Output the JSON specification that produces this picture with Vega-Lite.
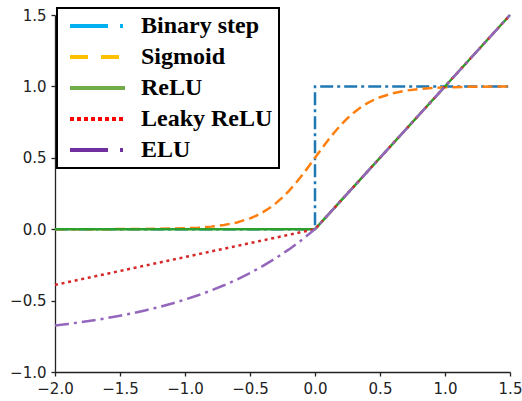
{
  "$schema": "https://vega.github.io/schema/vega-lite/v6.json",
  "width": 455,
  "height": 357,
  "autosize": {"type": "none"},
  "padding": {"left": 55, "top": 15, "right": 12, "bottom": 29},
  "background": "white",
  "config": {
    "view": {"stroke": null},
    "axis": {
      "grid": false,
      "domainColor": "#222",
      "domainWidth": 1.3,
      "tickColor": "#222",
      "tickWidth": 1.3,
      "tickSize": 4,
      "labelFont": "DejaVu Sans",
      "labelFontSize": 15,
      "labelColor": "#222",
      "labelPadding": 5,
      "labelFlush": false,
      "labelOverlap": false,
      "title": null,
      "format": ".1f"
    }
  },
  "data": {
    "values": [
      {"f": "Binary step", "x": -2, "y": 0, "i": 0},
      {"f": "Binary step", "x": 0, "y": 0, "i": 1},
      {"f": "Binary step", "x": 0, "y": 1, "i": 2},
      {"f": "Binary step", "x": 1.5, "y": 1, "i": 3},

      {"f": "Sigmoid", "x": -2.0, "y": 0.0000, "i": 0},
      {"f": "Sigmoid", "x": -1.5, "y": 0.0006, "i": 1},
      {"f": "Sigmoid", "x": -1.2, "y": 0.0025, "i": 2},
      {"f": "Sigmoid", "x": -1.0, "y": 0.0067, "i": 3},
      {"f": "Sigmoid", "x": -0.9, "y": 0.0110, "i": 4},
      {"f": "Sigmoid", "x": -0.8, "y": 0.0180, "i": 5},
      {"f": "Sigmoid", "x": -0.7, "y": 0.0293, "i": 6},
      {"f": "Sigmoid", "x": -0.6, "y": 0.0474, "i": 7},
      {"f": "Sigmoid", "x": -0.5, "y": 0.0759, "i": 8},
      {"f": "Sigmoid", "x": -0.45, "y": 0.0953, "i": 9},
      {"f": "Sigmoid", "x": -0.4, "y": 0.1192, "i": 10},
      {"f": "Sigmoid", "x": -0.35, "y": 0.1481, "i": 11},
      {"f": "Sigmoid", "x": -0.3, "y": 0.1824, "i": 12},
      {"f": "Sigmoid", "x": -0.25, "y": 0.2227, "i": 13},
      {"f": "Sigmoid", "x": -0.2, "y": 0.2689, "i": 14},
      {"f": "Sigmoid", "x": -0.15, "y": 0.3208, "i": 15},
      {"f": "Sigmoid", "x": -0.1, "y": 0.3775, "i": 16},
      {"f": "Sigmoid", "x": -0.05, "y": 0.4378, "i": 17},
      {"f": "Sigmoid", "x": 0.0, "y": 0.5, "i": 18},
      {"f": "Sigmoid", "x": 0.05, "y": 0.5622, "i": 19},
      {"f": "Sigmoid", "x": 0.1, "y": 0.6225, "i": 20},
      {"f": "Sigmoid", "x": 0.15, "y": 0.6792, "i": 21},
      {"f": "Sigmoid", "x": 0.2, "y": 0.7311, "i": 22},
      {"f": "Sigmoid", "x": 0.25, "y": 0.7773, "i": 23},
      {"f": "Sigmoid", "x": 0.3, "y": 0.8176, "i": 24},
      {"f": "Sigmoid", "x": 0.35, "y": 0.8519, "i": 25},
      {"f": "Sigmoid", "x": 0.4, "y": 0.8808, "i": 26},
      {"f": "Sigmoid", "x": 0.45, "y": 0.9047, "i": 27},
      {"f": "Sigmoid", "x": 0.5, "y": 0.9241, "i": 28},
      {"f": "Sigmoid", "x": 0.6, "y": 0.9526, "i": 29},
      {"f": "Sigmoid", "x": 0.7, "y": 0.9707, "i": 30},
      {"f": "Sigmoid", "x": 0.8, "y": 0.9820, "i": 31},
      {"f": "Sigmoid", "x": 0.9, "y": 0.9890, "i": 32},
      {"f": "Sigmoid", "x": 1.0, "y": 0.9933, "i": 33},
      {"f": "Sigmoid", "x": 1.2, "y": 0.9975, "i": 34},
      {"f": "Sigmoid", "x": 1.5, "y": 0.9994, "i": 35},

      {"f": "ReLU", "x": -2, "y": 0, "i": 0},
      {"f": "ReLU", "x": 0, "y": 0, "i": 1},
      {"f": "ReLU", "x": 1.5, "y": 1.5, "i": 2},

      {"f": "Leaky ReLU", "x": -2, "y": -0.39, "i": 0},
      {"f": "Leaky ReLU", "x": 0, "y": 0, "i": 1},
      {"f": "Leaky ReLU", "x": 1.5, "y": 1.5, "i": 2},

      {"f": "ELU", "x": -2.0, "y": -0.6745, "i": 0},
      {"f": "ELU", "x": -1.9, "y": -0.6633, "i": 1},
      {"f": "ELU", "x": -1.8, "y": -0.6511, "i": 2},
      {"f": "ELU", "x": -1.7, "y": -0.6375, "i": 3},
      {"f": "ELU", "x": -1.6, "y": -0.6225, "i": 4},
      {"f": "ELU", "x": -1.5, "y": -0.6060, "i": 5},
      {"f": "ELU", "x": -1.4, "y": -0.5877, "i": 6},
      {"f": "ELU", "x": -1.3, "y": -0.5674, "i": 7},
      {"f": "ELU", "x": -1.2, "y": -0.5451, "i": 8},
      {"f": "ELU", "x": -1.1, "y": -0.5203, "i": 9},
      {"f": "ELU", "x": -1.0, "y": -0.4931, "i": 10},
      {"f": "ELU", "x": -0.9, "y": -0.4629, "i": 11},
      {"f": "ELU", "x": -0.8, "y": -0.4296, "i": 12},
      {"f": "ELU", "x": -0.7, "y": -0.3927, "i": 13},
      {"f": "ELU", "x": -0.6, "y": -0.3519, "i": 14},
      {"f": "ELU", "x": -0.5, "y": -0.3069, "i": 15},
      {"f": "ELU", "x": -0.4, "y": -0.2572, "i": 16},
      {"f": "ELU", "x": -0.3, "y": -0.2022, "i": 17},
      {"f": "ELU", "x": -0.2, "y": -0.1414, "i": 18},
      {"f": "ELU", "x": -0.1, "y": -0.0742, "i": 19},
      {"f": "ELU", "x": 0.0, "y": 0, "i": 20},
      {"f": "ELU", "x": 1.5, "y": 1.5, "i": 21}
    ]
  },
  "encoding": {
    "x": {"field": "x", "type": "quantitative", "scale": {"domain": [-2, 1.5], "nice": false, "zero": false}, "axis": {"values": [-2, -1.5, -1, -0.5, 0, 0.5, 1, 1.5]}},
    "y": {"field": "y", "type": "quantitative", "scale": {"domain": [-1, 1.5], "nice": false, "zero": false}, "axis": {"values": [-1, -0.5, 0, 0.5, 1, 1.5]}},
    "order": {"field": "i", "type": "quantitative"}
  },
  "layer": [
    {
      "transform": [{"filter": "datum.f === 'Binary step'"}],
      "mark": {"type": "line", "strokeWidth": 2.5, "stroke": "#1f77b4", "strokeDash": [13, 4, 3, 4]}
    },
    {
      "transform": [{"filter": "datum.f === 'Sigmoid'"}],
      "mark": {"type": "line", "strokeWidth": 2.5, "stroke": "#ff7f0e", "strokeDash": [10, 5]}
    },
    {
      "transform": [{"filter": "datum.f === 'ReLU'"}],
      "mark": {"type": "line", "strokeWidth": 2.5, "stroke": "#2ca02c"}
    },
    {
      "transform": [{"filter": "datum.f === 'Leaky ReLU'"}],
      "mark": {"type": "line", "strokeWidth": 2.5, "stroke": "#d62728", "strokeDash": [3, 3.7]}
    },
    {
      "transform": [{"filter": "datum.f === 'ELU'"}],
      "mark": {"type": "line", "strokeWidth": 2.5, "stroke": "#9467bd", "strokeDash": [14, 5, 3, 5]}
    },
    {
      "mark": {"type": "line", "opacity": 0, "strokeWidth": 4},
      "encoding": {
        "color": {"field": "f", "type": "nominal",
          "scale": {"domain": ["Binary step", "Sigmoid", "ReLU", "Leaky ReLU", "ELU"], "range": ["#00b0f0", "#ffc000", "#70ad47", "#ff0000", "#7030a0"]},
          "legend": {
            "title": null, "orient": "none", "legendX": 2, "legendY": -7,
            "symbolType": "stroke", "symbolSize": 3025, "symbolStrokeWidth": 4, "symbolOffset": 5,
            "clipHeight": 24,
            "labelFont": "Liberation Serif", "labelFontWeight": "bold", "labelFontSize": 24, "labelColor": "black",
            "labelOffset": 14, "rowPadding": 7, "padding": 6,
            "fillColor": "white", "strokeColor": "black",
            "encode": {
              "symbols": {"update": {"opacity": {"value": 1}, "strokeOpacity": {"value": 1}}},
              "legend": {"update": {"strokeWidth": {"value": 2}}}
            }
          }},
        "strokeDash": {"field": "f", "type": "nominal",
          "scale": {"domain": ["Binary step", "Sigmoid", "ReLU", "Leaky ReLU", "ELU"], "range": [[38, 12, 3, 12], [18, 13], [1, 0], [4, 3], [38, 12, 3, 12]]},
          "legend": {"title": null}}
      }
    }
  ]
}
